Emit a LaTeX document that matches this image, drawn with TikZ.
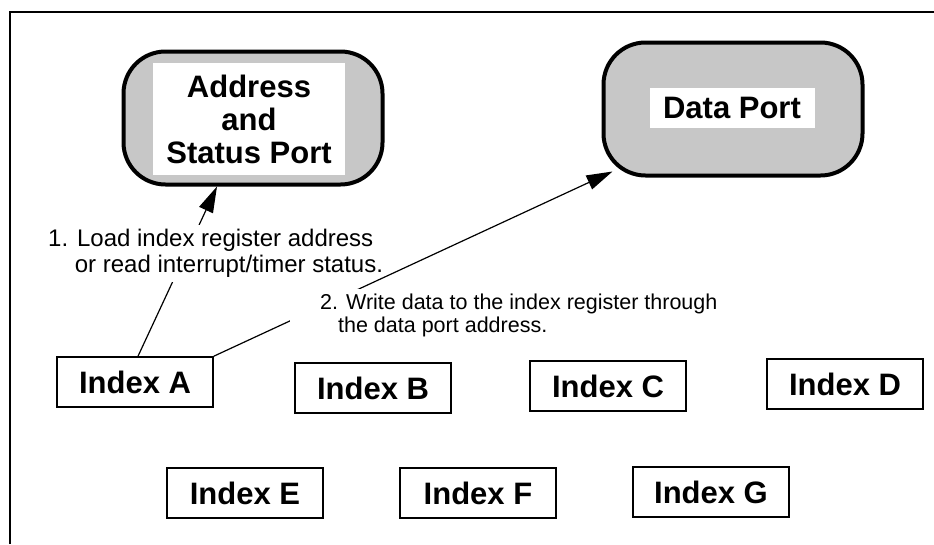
\documentclass[tikz,border=0pt]{standalone}
\usepackage{fontspec}
\setmainfont{Liberation Sans}
\usetikzlibrary{arrows.meta}

\begin{document}
\begin{tikzpicture}[
  x=1pt, y=-1pt,
  port/.style={draw, line width=4pt, rounded corners=42pt, fill=black!22, minimum width=259pt, minimum height=133pt},
  porttext/.style={fill=white, align=center, inner sep=0pt, font=\bfseries\fontsize{31}{33}\selectfont},
  idx/.style={draw, line width=1.6pt, minimum width=156pt, minimum height=50pt, font=\bfseries\fontsize{31}{33}\selectfont},
  note/.style={fill=white, align=left, anchor=north west},
  arrow/.style={-{Triangle[length=26pt,width=15pt]}, line width=1.2pt}
]
\useasboundingbox (0,0) rectangle (934,544);
% frame (only top and left edges show)
\draw[line width=2.5pt] (10,544) -- (10,12) -- (934,12);

% ports
\node[port] (addr) at (253,118) {};
\node[porttext, minimum width=192pt, minimum height=112pt] (addrtxt) at (249,119) {Address\\and\\Status Port};
\node[port] (data) at (733,109) {};
\node[porttext, minimum width=165pt, minimum height=40pt] (datatxt) at (732,108) {Data Port};

% index registers
\node[idx] (ia) at (135,382) {Index A};
\node[idx] (ib) at (373,388) {Index B};
\node[idx] (ic) at (608,386) {Index C};
\node[idx] (id) at (845,384) {Index D};
\node[idx] (ie) at (245,493) {Index E};
\node[idx] (if) at (478,493) {Index F};
\node[idx] (ig) at (711,492) {Index G};

% step 1
\draw[arrow] ([xshift=3pt]ia.north) -- ([xshift=-36pt]addr.south);
\node[note, inner sep=4pt, font=\fontsize{24}{26}\selectfont] (load) at (44,225)
  {1. Load index register address\\\hphantom{1.}\ or read interrupt/timer status.};

% step 2
\draw[arrow] (ia.north east) -- ([shift={(11,-6)}]data.south west);
\node[note, inner xsep=30pt, inner ysep=5pt, font=\fontsize{21.5}{23}\selectfont] (write) at (290,289)
  {2. Write data to the index register through\\\hphantom{2.}the data port address.};
\end{tikzpicture}
\end{document}
